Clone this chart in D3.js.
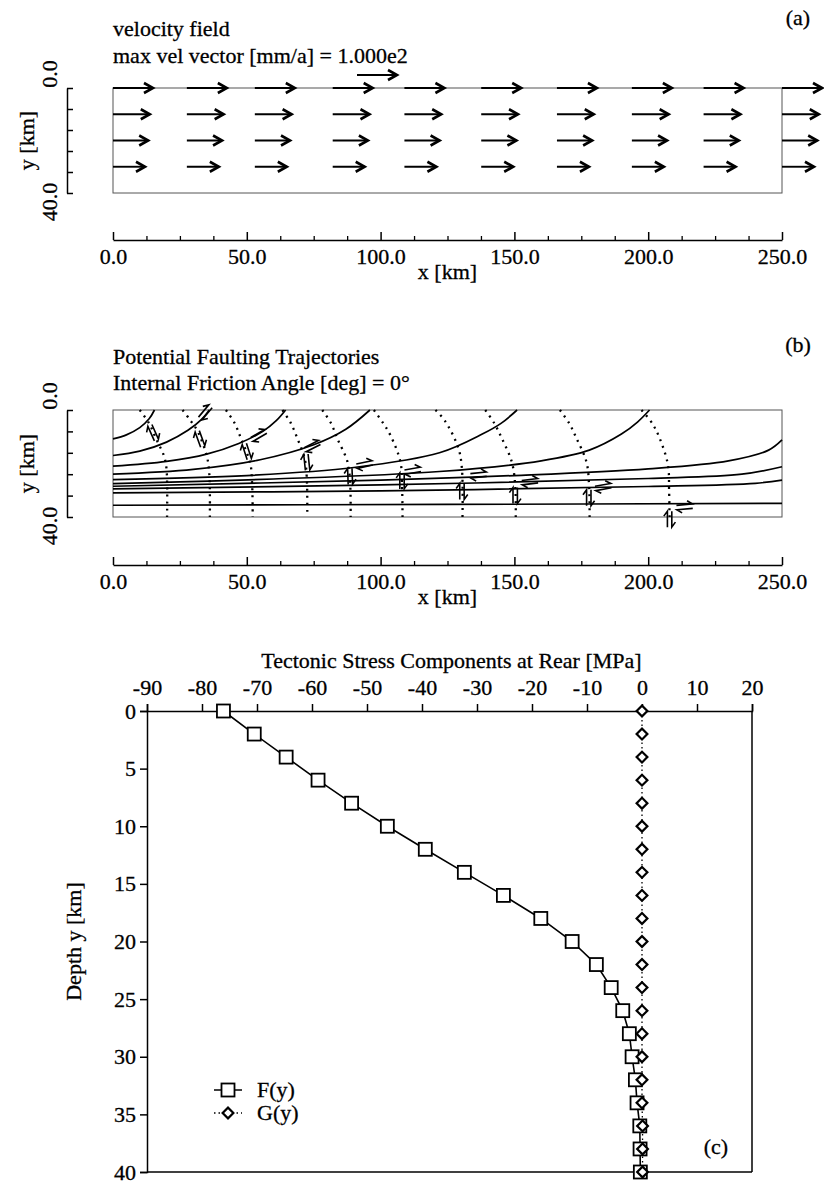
<!DOCTYPE html>
<html>
<head>
<meta charset="utf-8">
<script src="https://cdn.jsdelivr.net/npm/d3@7"></script>
<style>
  body { margin: 0; background: #fff; }
  text { font-family: "Liberation Serif", "Times New Roman", serif; font-size: 22px; fill: #000;
         stroke: #000; stroke-width: 0.3px; }
</style>
</head>
<body>
<svg id="fig" width="824" height="1193"></svg>
<script>
// panel (a): velocity field at mesh nodes
var nodeX = [0, 27.6, 53, 82.1, 108.9, 137.6, 165.9, 193.9, 220.7, 250]
var nodeDepth = [0, 10, 20, 30]
var rowVelocity = [100, 92, 88, 80]
var maxVelocity = 100
var kmTicks = [0, 50, 100, 150, 200, 250]
var kmMinorTicks = [12.5, 25, 37.5, 62.5, 75, 87.5, 112.5, 125, 137.5, 162.5, 175, 187.5, 212.5, 225, 237.5]
var depthBracketTicks = [0, 8, 16, 24, 32, 40]

// panel (b): trajectories as [x km, depth km]
var solidTrajectories = [
  [[0, 10.8], [5, 9.3], [10, 6.6], [13.5, 3.3], [15.5, 0]],
  [[0, 17], [10, 15.4], [20, 12], [28, 7.6], [33, 3.6], [36, 0]],
  [[0, 21], [20, 19.2], [35, 16.5], [47, 12.5], [56, 8], [61, 4], [64.5, 0]],
  [[0, 24], [30, 22.2], [55, 18.6], [75, 13], [87, 7.2], [96, 0]],
  [[0, 26], [50, 24.5], [90, 21.5], [122, 16], [138, 9], [145, 5], [151, 0]],
  [[0, 27.5], [60, 25.8], [122, 23], [160, 19], [178, 15], [190, 9], [196, 4.5], [200.5, 0]],
  [[0, 28.5], [100, 26.2], [150, 24.5], [200, 22], [230, 19], [245, 15], [250, 11.2]],
  [[0, 29.5], [100, 28], [200, 25.6], [235, 24], [250, 21.2]],
  [[0, 31], [100, 30.2], [200, 28.6], [240, 27.4], [250, 26.2]],
  [[0, 35.6], [125, 35.3], [250, 34.9]]
]
var dottedTrajectories = [
  [[10, 0], [13.5, 5], [16.2, 11], [19, 17], [20, 22], [20.2, 40]],
  [[26, 0], [29, 4], [31.7, 8.1], [35.1, 17.4], [36, 24], [36.2, 40]],
  [[42.2, 0], [45.5, 5], [47.8, 10.6], [51.3, 20], [52, 28], [52.2, 40]],
  [[63.3, 0], [66.5, 5], [68.9, 10.6], [71.6, 18], [72.4, 25], [72.6, 40]],
  [[78.2, 0], [81.5, 5], [83.8, 10.6], [87.6, 19.3], [88.6, 27], [88.8, 40]],
  [[97.5, 0], [101, 5], [103.7, 9.5], [107.4, 19.3], [108, 28], [108.2, 40]],
  [[120.5, 0], [124, 4], [129, 14], [130.4, 22], [130.6, 40]],
  [[139.1, 0], [142.5, 5], [145.3, 10.6], [149, 19.3], [150.3, 28], [150.5, 40]],
  [[167, 0], [170.5, 5], [173.2, 10.6], [176.9, 19.3], [177.9, 28], [178.1, 40]],
  [[197.5, 0], [201.5, 5], [204.3, 10.6], [207.4, 20.6], [207.8, 30], [208, 40]]
]
// shear sense marks: [x km, depth km, direction deg]
var shearMarks = [
  [15, 8.5, 66], [34.5, 0.9, -50], [32.5, 10.8, 70], [54.5, 9.5, -30], [50, 15.5, 72],
  [74.5, 13.5, -27], [72.4, 19.5, 84], [94, 20.4, -12], [88.6, 24.8, 88], [112, 22.7, -10],
  [108, 26.5, 90], [136.6, 24.3, -6], [130.4, 30.5, 90], [155.8, 26.8, -7], [150.3, 32, 90],
  [183.2, 28.8, -10], [177.8, 32.8, 90], [213.6, 36.2, -5], [208, 40.8, 90]
]

// panel (c): stress components at rear
var depthKm = [0, 2, 4, 6, 8, 10, 12, 14, 16, 18, 20, 22, 24, 26, 28, 30, 32, 34, 36, 38, 40]
var fValues = [-76.1, -70.5, -64.7, -58.9, -52.8, -46.3, -39.4, -32.3, -25.2, -18.4, -12.7,
  -8.3, -5.6, -3.5, -2.3, -1.8, -1.2, -0.9, -0.4, -0.35, -0.3]
var gValues = [0, 0, 0, 0, 0, 0, 0, 0, 0, 0, 0, 0, 0, 0, 0, 0, 0, 0, 0.1, 0.1, 0.1]
var stressTicks = [-90, -80, -70, -60, -50, -40, -30, -20, -10, 0, 10, 20]
var depthTicks = [0, 5, 10, 15, 20, 25, 30, 35, 40]

var serif = '"Liberation Serif", "Times New Roman", serif'
var svg = d3.select("#fig")

function styleAxis(a) {
  a.select(".domain").attr("stroke-width", 1.5)
  a.selectAll(".tick line").attr("stroke-width", 1.5)
  a.selectAll("text").style("font-family", serif).style("font-size", "22px")
}

// shared frame for the two cross sections
function section(top, bottom, axisY, title1, title2, tag, tagY, t1y, t2y) {
  var x = d3.scaleLinear().domain([0, 250]).range([113, 782])
  var y = d3.scaleLinear().domain([0, 40]).range([top, bottom])
  var g = svg.append("g")

  g.append("rect")
    .attr("x", x(0)).attr("y", y(0))
    .attr("width", x(250) - x(0)).attr("height", y(40) - y(0))
    .attr("fill", "none").attr("stroke", "#555").attr("stroke-width", 1)

  // x bracket axis below the section
  var major = g.append("g").attr("transform", "translate(0," + axisY + ")")
    .call(d3.axisBottom(x).tickValues(kmTicks).tickSizeInner(-8).tickSizeOuter(0)
      .tickPadding(8).tickFormat(d3.format(".1f")))
  styleAxis(major)
  g.append("g").attr("transform", "translate(0," + axisY + ")")
    .call(d3.axisBottom(x).tickValues(kmMinorTicks).tickSizeInner(-4).tickSizeOuter(0).tickFormat(""))
    .call(function (s) { s.select(".domain").remove() })
    .selectAll("line").attr("stroke-width", 1.3)
  g.append("text").attr("x", (x(0) + x(250)) / 2).attr("y", axisY + 39)
    .attr("text-anchor", "middle").text("x [km]")

  // y bracket axis left of the section
  var left = g.append("g").attr("transform", "translate(67,0)")
    .call(d3.axisLeft(y).tickValues(depthBracketTicks).tickSizeInner(-6).tickSizeOuter(0).tickFormat(""))
  styleAxis(left)
  g.append("text").attr("transform", "translate(57," + (y(0) - 14) + ") rotate(-90)")
    .attr("text-anchor", "middle").text("0.0")
  g.append("text").attr("transform", "translate(57," + (y(40) + 9) + ") rotate(-90)")
    .attr("text-anchor", "middle").text("40.0")
  g.append("text").attr("transform", "translate(34," + (y(20)) + ") rotate(-90)")
    .attr("text-anchor", "middle").text("y [km]")

  g.append("text").attr("x", 113).attr("y", t1y).text(title1)
  g.append("text").attr("x", 113).attr("y", t2y).text(title2)
  g.append("text").attr("x", 798).attr("y", tagY).attr("text-anchor", "middle").text(tag)
  return { g: g, x: x, y: y }
}

// ---- (a)
var pa = section(88, 193, 240, "velocity field", "max vel vector [mm/a] = 1.000e2", "(a)", 25, 36, 63)
var vLen = d3.scaleLinear().domain([0, maxVelocity]).range([0, 40])

function arrow(g, x0, y0, len) {
  g.append("line").attr("x1", x0).attr("y1", y0).attr("x2", x0 + len).attr("y2", y0)
    .attr("stroke", "#000").attr("stroke-width", 1.9)
  g.append("path")
    .attr("d", "M" + (x0 + len - 9) + "," + (y0 - 5) + "L" + (x0 + len) + "," + y0 + "L" + (x0 + len - 9) + "," + (y0 + 5))
    .attr("fill", "none").attr("stroke", "#000").attr("stroke-width", 2.6)
}
nodeDepth.forEach(function (d, i) {
  nodeX.forEach(function (xk) {
    arrow(pa.g, pa.x(xk), pa.y(d), vLen(rowVelocity[i]))
  })
})
arrow(pa.g, 357, 75, vLen(maxVelocity))

// ---- (b)
var pb = section(410, 517, 565, "Potential Faulting Trajectories", "Internal Friction Angle [deg] = 0°", "(b)", 352, 364, 390)
var trajLine = d3.line()
  .x(function (p) { return pb.x(p[0]) })
  .y(function (p) { return pb.y(p[1]) })
  .curve(d3.curveCatmullRom.alpha(0.5))

pb.g.selectAll(".dotted").data(dottedTrajectories).enter().append("path")
  .attr("d", trajLine).attr("fill", "none").attr("stroke", "#000")
  .attr("stroke-width", 2.3).attr("stroke-dasharray", "2,5")
pb.g.selectAll(".solid").data(solidTrajectories).enter().append("path")
  .attr("d", trajLine).attr("fill", "none").attr("stroke", "#000").attr("stroke-width", 1.7)

var marks = pb.g.selectAll(".mark").data(shearMarks).enter().append("g")
  .attr("transform", function (m) {
    return "translate(" + pb.x(m[0]) + "," + pb.y(m[1]) + ") rotate(" + m[2] + ")"
  })
marks.append("path")
  .attr("d", "M-8,-2.2L8,-2.2L3,-5.8M8,2.2L-8,2.2L-3,5.8")
  .attr("fill", "none").attr("stroke", "#000").attr("stroke-width", 1.6)

// ---- (c)
var xc = d3.scaleLinear().domain([-90, 20]).range([147, 752])
var yc = d3.scaleLinear().domain([0, 40]).range([711, 1172])
var gc = svg.append("g")

var topAxis = gc.append("g").attr("transform", "translate(0," + yc(0) + ")")
  .call(d3.axisTop(xc).tickValues(stressTicks).tickSize(7).tickPadding(9)
    .tickFormat(function (d) { return String(d) }))
var leftAxis = gc.append("g").attr("transform", "translate(" + xc(-90) + ",0)")
  .call(d3.axisLeft(yc).tickValues(depthTicks).tickSize(7).tickPadding(4))
styleAxis(topAxis)
styleAxis(leftAxis)
gc.append("line").attr("x1", xc(20)).attr("x2", xc(20)).attr("y1", yc(0)).attr("y2", yc(40))
  .attr("stroke", "#000").attr("stroke-width", 1.5)
gc.append("line").attr("x1", xc(-90)).attr("x2", xc(20)).attr("y1", yc(40)).attr("y2", yc(40))
  .attr("stroke", "#000").attr("stroke-width", 1.5)

gc.append("text").attr("x", (xc(-90) + xc(20)) / 2 + 2).attr("y", 668)
  .attr("text-anchor", "middle").text("Tectonic Stress Components at Rear [MPa]")
gc.append("text").attr("transform", "translate(81," + yc(20) + ") rotate(-90)")
  .attr("text-anchor", "middle").text("Depth y [km]")
gc.append("text").attr("x", 716).attr("y", 1154).attr("text-anchor", "middle").text("(c)")

var lineF = d3.line().x(function (d, i) { return xc(fValues[i]) }).y(function (d) { return yc(d) })
var lineG = d3.line().x(function (d, i) { return xc(gValues[i]) }).y(function (d) { return yc(d) })

gc.append("path").attr("d", lineG(depthKm)).attr("fill", "none").attr("stroke", "#000")
  .attr("stroke-width", 1.3).attr("stroke-dasharray", "1.5,3")
gc.append("path").attr("d", lineF(depthKm)).attr("fill", "none").attr("stroke", "#000")
  .attr("stroke-width", 1.6)

var diamond = d3.symbol(d3.symbolSquare, 58)
function square(g, cx, cy) {
  g.append("rect").attr("x", cx - 6.5).attr("y", cy - 6.5).attr("width", 13).attr("height", 13)
    .attr("fill", "#fff").attr("stroke", "#000").attr("stroke-width", 1.8)
}
function diamondAt(g, cx, cy) {
  g.append("path").attr("d", diamond)
    .attr("transform", "translate(" + cx + "," + cy + ") rotate(45)")
    .attr("fill", "#fff").attr("stroke", "#000").attr("stroke-width", 2.2)
}
depthKm.forEach(function (d, i) { square(gc, xc(fValues[i]), yc(d)) })
depthKm.forEach(function (d, i) { diamondAt(gc, xc(gValues[i]), yc(d)) })

// legend
gc.append("line").attr("x1", 214).attr("x2", 242).attr("y1", 1090).attr("y2", 1090)
  .attr("stroke", "#000").attr("stroke-width", 1.5)
square(gc, 228, 1090)
gc.append("text").attr("x", 257).attr("y", 1097).text("F(y)")
gc.append("line").attr("x1", 214).attr("x2", 242).attr("y1", 1113).attr("y2", 1113)
  .attr("stroke", "#000").attr("stroke-width", 1.3).attr("stroke-dasharray", "1.5,3")
diamondAt(gc, 228, 1113)
gc.append("text").attr("x", 257).attr("y", 1120).text("G(y)")
</script>
</body>
</html>
